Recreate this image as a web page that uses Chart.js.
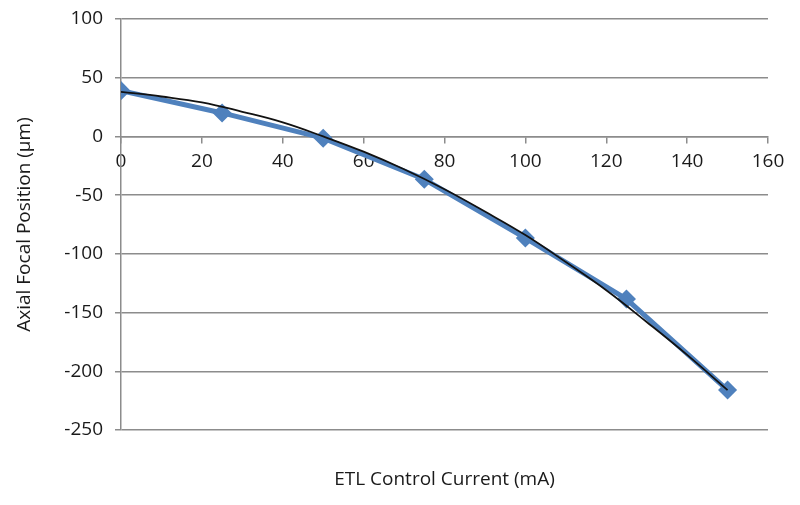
<!DOCTYPE html>
<html>
<head>
<meta charset="utf-8">
<script src="https://cdn.jsdelivr.net/npm/chart.js@4/dist/chart.umd.min.js"></script>
<style>
  html, body { margin: 0; padding: 0; background: #fff; }
  #wrap { width: 800px; height: 505px; }
</style>
</head>
<body>
<div id="wrap"><canvas id="chart" width="800" height="505"></canvas></div>
<script>
// measured points (current in mA, focal position in um)
const currents = [0, 25, 50, 75, 100, 125, 150];
const positions = [39, 20, -1.5, -36.5, -86.5, -138.5, -216];

// polynomial trendline, every 10 mA
const trendX = [0, 10, 20, 30, 40, 50, 60, 70, 80, 90, 100, 110, 120, 130, 140, 150];
const trendY = [38, 34, 29, 21, 12, 0, -13, -28, -45, -64, -84, -107, -131, -158, -186, -216];

const xTicks = [0, 20, 40, 60, 80, 100, 120, 140, 160];
const yTicks = [100, 50, 0, -50, -100, -150, -200, -250];

const FONT = "'Open Sans', 'DejaVu Sans', sans-serif";
const gridGray = '#8c8c8c';
const textCol = '#1a1a1a';

const toPoints = (xs, ys) => xs.map((x, i) => ({ x: x, y: ys[i] }));

const ctx = document.getElementById('chart');
const chart = new Chart(ctx, {
  type: 'scatter',
  data: {
    datasets: [
      {
        label: 'trend',
        data: toPoints(trendX, trendY),
        showLine: true,
        borderColor: '#111',
        borderWidth: 1.8,
        pointRadius: 0,
        tension: 0.4,
        order: 0
      },
      {
        label: 'ETL',
        data: toPoints(currents, positions),
        showLine: true,
        borderColor: '#4f81bd',
        backgroundColor: '#4f81bd',
        borderWidth: 5,
        pointStyle: 'rectRot',
        pointRadius: 6,
        order: 1
      }
    ]
  },
  options: {
    responsive: false,
    animation: false,
    layout: { padding: { top: 19, right: 32, bottom: 0, left: 8 } },
    plugins: {
      legend: { display: false },
      tooltip: { enabled: false }
    },
    scales: {
      x: {
        type: 'linear',
        position: { y: 0 },
        min: 0,
        max: 160,
        afterBuildTicks: (scale) => { scale.ticks = xTicks.map(v => ({ value: v })); },
        grid: { drawOnChartArea: false, drawTicks: true, tickLength: 6, color: gridGray, lineWidth: 1.5 },
        border: { display: true, color: gridGray, width: 1.5 },
        ticks: { color: textCol, font: { family: FONT, size: 19 }, padding: 8, maxRotation: 0 }
      },
      xTitle: {
        type: 'linear',
        position: 'bottom',
        min: 0,
        max: 160,
        grid: { display: false },
        border: { display: false },
        ticks: { display: false },
        title: { display: true, text: 'ETL Control Current (mA)', color: textCol, font: { family: FONT, size: 19 }, padding: { top: 4, bottom: 14 } },
        afterFit: (scale) => { scale.height = 75; }
      },
      y: {
        type: 'linear',
        min: -250,
        max: 100,
        afterBuildTicks: (scale) => { scale.ticks = yTicks.map(v => ({ value: v })); },
        grid: { color: gridGray, lineWidth: 1.5, tickLength: 6 },
        border: { display: true, color: gridGray, width: 1.5 },
        ticks: { color: textCol, font: { family: FONT, size: 19 }, padding: 12 },
        title: { display: true, text: 'Axial Focal Position (µm)', color: textCol, font: { family: FONT, size: 19 }, padding: { top: 5, bottom: 10 } },
        afterFit: (scale) => {
          scale.width = 113;
          scale.paddingTop = 0;
          scale.paddingBottom = 0;
        }
      }
    }
  }
});
</script>
</body>
</html>
